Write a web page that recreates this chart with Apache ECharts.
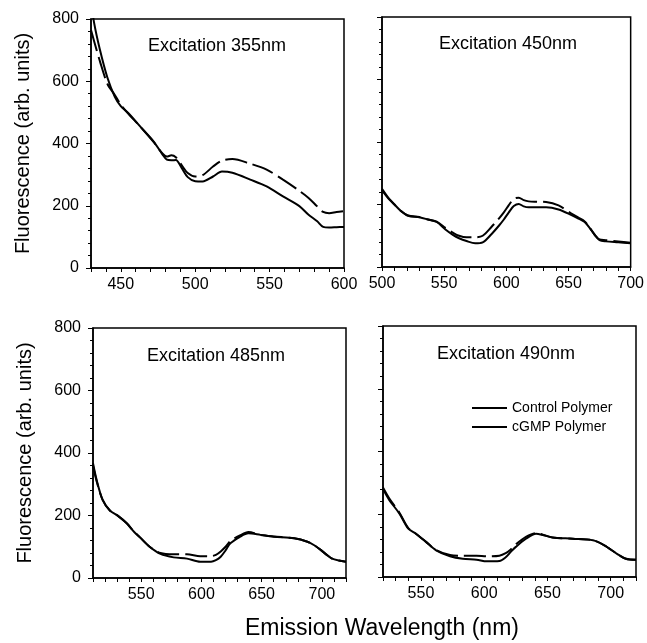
<!DOCTYPE html>
<html>
<head>
<meta charset="utf-8">
<script src="https://cdn.jsdelivr.net/npm/echarts@6/dist/echarts.min.js"></script>
<style>
  html, body { margin: 0; padding: 0; background: #fff; }
  #chart { width: 647px; height: 643px; }
</style>
</head>
<body>
<div id="chart"></div>
<script>
// excitation 355nm
var wl355   = [430, 432, 436, 441, 446, 450, 455, 463, 472, 478, 481, 484, 487, 491, 495, 500, 505, 512, 518, 525, 537, 548, 559, 570, 576, 582, 586, 590, 595, 600];
var ctrl355 = [860, 790, 701, 612, 550, 520, 498, 455, 407, 365, 348, 346, 347, 321, 292, 279, 278, 294, 310, 306, 284, 262, 230, 199, 172, 150, 132, 130, 131, 132];
var cgmp355 = [765, 730, 664, 592, 556, 525, 496, 455, 405, 368, 358, 362, 356, 330, 305, 294, 298, 326, 345, 350, 335, 316, 284, 248, 226, 198, 180, 176, 180, 183];

// excitation 450nm
var wl450   = [500, 505, 510, 515, 521, 530, 537, 544, 551, 557, 562, 568, 575, 581, 588, 594, 598, 602, 606, 610, 614, 618, 625, 632, 642, 652, 658, 663, 667, 671, 675, 680, 690, 700];
var ctrl450 = [246, 220, 200, 180, 164, 159, 152, 144, 120, 103, 92, 83, 76, 79, 105, 132, 152, 175, 195, 202, 194, 191, 191, 191, 184, 167, 155, 144, 125, 103, 86, 82, 79, 76];
var cgmp450 = [250, 222, 200, 180, 165, 160, 152, 145, 125, 110, 100, 95, 95, 100, 128, 155, 175, 198, 218, 222, 214, 210, 209, 208, 197, 172, 158, 146, 126, 104, 88, 86, 82, 78];

// excitation 485nm
var wl485   = [510, 513, 518, 524, 531, 538, 544, 549, 557, 566, 577, 588, 599, 608, 612, 616, 620, 624, 632, 639, 649, 660, 677, 688, 694, 699, 704, 708, 714, 720];
var ctrl485 = [367, 314, 250, 216, 198, 175, 148, 130, 100, 77, 66, 62, 52, 52, 57, 68, 88, 111, 132, 143, 138, 132, 127, 116, 104, 90, 74, 63, 56, 52];
var cgmp485 = [360, 310, 250, 216, 198, 175, 148, 130, 100, 80, 76, 76, 70, 70, 74, 85, 100, 118, 136, 147, 138, 133, 127, 116, 104, 90, 74, 63, 56, 52];

// excitation 490nm
var wl490   = [520, 525, 533, 540, 546, 554, 562, 573, 583, 594, 602, 612, 617, 621, 625, 633, 641, 647, 654, 670, 686, 695, 705, 712, 720];
var ctrl490 = [280, 245, 202, 154, 138, 112, 85, 66, 58, 55, 50, 51, 63, 80, 96, 122, 138, 133, 126, 122, 117, 101, 74, 58, 55];
var cgmp490 = [285, 250, 205, 156, 138, 112, 86, 70, 68, 68, 66, 68, 76, 88, 104, 128, 140, 134, 126, 122, 117, 101, 74, 58, 55];

var titles = ['Excitation 355nm', 'Excitation 450nm', 'Excitation 485nm', 'Excitation 490nm'];
var xLabels = [[450, 500, 550, 600], [500, 550, 600, 650, 700], [550, 600, 650, 700], [550, 600, 650, 700]];
var xRange = [[430, 600], [500, 700], [510, 720], [520, 720]];
var seriesNames = ['Control Polymer', 'cGMP Polymer'];

var FONT = 'Liberation Sans, Arial, sans-serif';

var grids = [
    {left: 91,  top: 19,  width: 253, height: 249},
    {left: 382, top: 17,  width: 251, height: 250},
    {left: 93,  top: 328, width: 253, height: 250},
    {left: 383, top: 326, width: 253, height: 251}
];
var titlePos = [[148, 37], [439, 35], [147, 347], [437, 345]];

function pairs(xs, ys) {
    var out = [];
    for (var i = 0; i < xs.length; i++) out.push([xs[i], ys[i]]);
    return out;
}

function tickList(lo, hi) {
    var t = [];
    for (var v = lo; v <= hi; v += 10) t.push(v);
    return t;
}

var panels = [
    [wl355, ctrl355, cgmp355],
    [wl450, ctrl450, cgmp450],
    [wl485, ctrl485, cgmp485],
    [wl490, ctrl490, cgmp490]
];

var xAxes = [], yAxes = [], series = [], titleList = [];

grids.forEach(function (g, i) {
    g.show = true;
    g.borderColor = '#000';
    g.borderWidth = 1.5;

    xAxes.push({
        gridIndex: i, type: 'value',
        min: xRange[i][0], max: xRange[i][1],
        axisLine: {onZero: false, lineStyle: {color: '#000', width: 1.5}},
        axisTick: {customValues: tickList(xRange[i][0], xRange[i][1]), length: 4, lineStyle: {color: '#000'}},
        axisLabel: {customValues: xLabels[i], color: '#000', fontSize: 16, fontFamily: FONT, margin: 9},
        splitLine: {show: false}
    });

    yAxes.push({
        gridIndex: i, type: 'value',
        min: 0, max: 800, interval: 200,
        axisLine: {show: true, lineStyle: {color: '#000', width: 1.5}},
        axisTick: {show: true, length: 5, lineStyle: {color: '#000'}},
        minorTick: {show: true, splitNumber: 5, length: 3, lineStyle: {color: '#000'}},
        axisLabel: {show: i % 2 === 0, color: '#000', fontSize: 16, fontFamily: FONT, margin: 12},
        splitLine: {show: false},
        name: i % 2 === 0 ? 'Fluorescence (arb. units)' : '',
        nameLocation: 'middle',
        nameGap: 58,
        nameTextStyle: {color: '#000', fontSize: 20, fontFamily: FONT}
    });

    titleList.push({
        text: titles[i], left: titlePos[i][0], top: titlePos[i][1], padding: 0,
        textStyle: {color: '#000', fontSize: 18, fontWeight: 'normal', fontFamily: FONT}
    });

    var p = panels[i];
    series.push({
        name: seriesNames[0], type: 'line', xAxisIndex: i, yAxisIndex: i,
        data: pairs(p[0], p[1]), symbol: 'none', smooth: 0.3,
        itemStyle: {color: '#000'},
        lineStyle: {color: '#000', width: 2}
    });
    series.push({
        name: seriesNames[1], type: 'line', xAxisIndex: i, yAxisIndex: i,
        data: pairs(p[0], p[2]), symbol: 'none', smooth: 0.3,
        itemStyle: {color: '#000'},
        lineStyle: {color: '#000', width: 2, type: [22, 6]}
    });
});

var myChart = echarts.init(document.getElementById('chart'));

var option = {
    backgroundColor: '#fff',
    animation: false,
    title: titleList,
    legend: {
        data: [
            {name: seriesNames[0]},
            {name: seriesNames[1], lineStyle: {type: 'solid'}}
        ],
        orient: 'vertical',
        left: 466, top: 396,
        itemWidth: 35, itemHeight: 12, itemGap: 5,
        lineStyle: {type: 'solid', width: 2},
        itemStyle: {opacity: 0},
        selectedMode: false,
        textStyle: {color: '#000', fontSize: 14, fontFamily: FONT}
    },
    grid: grids,
    xAxis: xAxes,
    yAxis: yAxes,
    series: series,
    graphic: [{
        type: 'text', left: 245, top: 617,
        style: {text: 'Emission Wavelength (nm)', fill: '#000', font: '23px ' + FONT}
    }]
};

myChart.setOption(option);
</script>
</body>
</html>
